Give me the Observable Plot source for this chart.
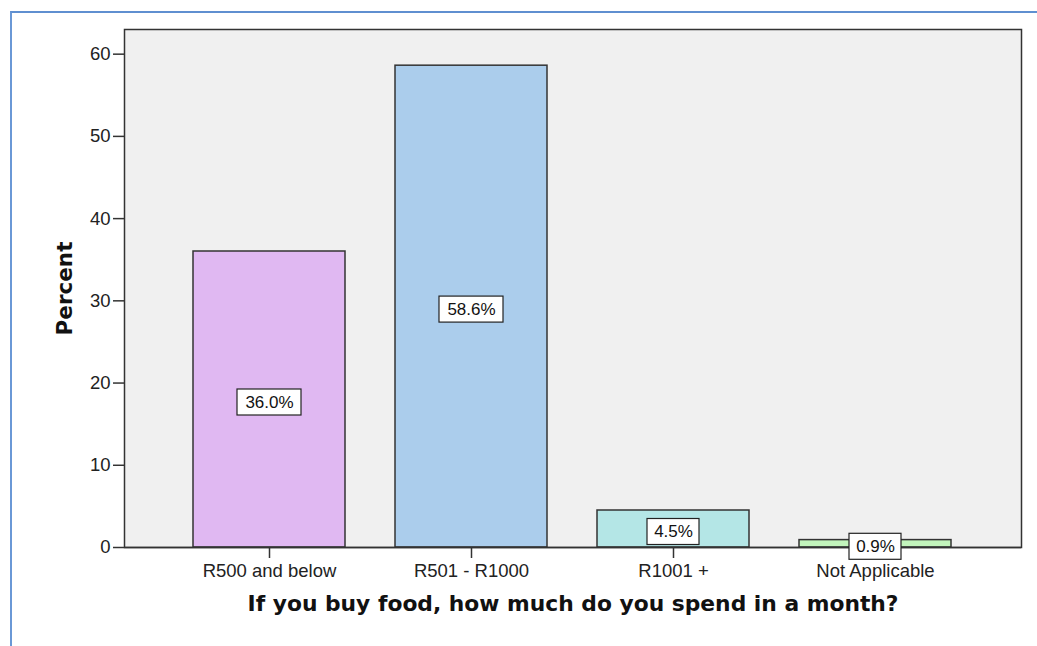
<!DOCTYPE html>
<html>
<head>
<meta charset="utf-8">
<script src="https://cdn.jsdelivr.net/npm/d3@7"></script>
<script src="https://cdn.jsdelivr.net/npm/@observablehq/plot@0.6"></script>
<style>
  html, body { margin: 0; padding: 0; background: #ffffff; }
  #wrap { position: relative; width: 1037px; height: 646px; overflow: hidden; }
  #blueframe { position: absolute; left: 10px; top: 11px; right: -4px; bottom: -4px;
    border-top: 2px solid #5f8fd0; border-left: 2px solid #6a98d6; }
  #chart { position: absolute; left: 0; top: 0; }
</style>
</head>
<body>
<div id="wrap"><div id="blueframe"></div><div id="chart"></div></div>
<script>
// Data
const categories = ["R500 and below", "R501 - R1000", "R1001 +", "Not Applicable"];
const percents = [36.0, 58.6, 4.5, 0.9];
const valueLabels = ["36.0%", "58.6%", "4.5%", "0.9%"];
const yTicks = [0, 10, 20, 30, 40, 50, 60];
const palette = ["#e0b8f2", "#abcdec", "#b4e6e6", "#c2f5bc"];
const xTitle = "If you buy food, how much do you spend in a month?";
const yTitle = "Percent";

const data = categories.map((c, i) => ({category: c, value: percents[i], label: valueLabels[i]}));

const bandwidth = 152;
const labelBoxes = data.map(d => {
  const w = d.label.length * 12 + 4;
  const inset = (bandwidth - w) / 2;
  return Plot.barY([d], {
    x: "category", y1: d => d.value / 2, y2: d => d.value / 2,
    insetLeft: inset, insetRight: inset, insetTop: -10, insetBottom: -16,
    fill: "white", stroke: "#222", strokeWidth: 1.2
  });
});

const chart = Plot.plot({
  width: 1037,
  height: 646,
  marginLeft: 124,
  marginRight: 16,
  marginTop: 29,
  marginBottom: 99,
  style: {fontFamily: "'Liberation Sans', Arial, sans-serif", fontSize: "18.5px", color: "#222", background: "transparent"},
  x: {domain: categories, paddingInner: 0.2475, paddingOuter: 0.344, label: null},
  y: {domain: [0, 63], label: null},
  color: {domain: categories, range: palette},
  marks: [
    Plot.frame({fill: "#f0f0f0"}),
    Plot.barY(data, {x: "category", y: "value", fill: "category", stroke: "#333", strokeWidth: 1.5}),
    Plot.frame({stroke: "#333", strokeWidth: 1.5}),
    Plot.ruleY([0], {stroke: "#333", strokeWidth: 1.5}),
    Plot.axisY({ticks: yTicks, tickSize: 11, tickPadding: 3, tickFormat: d => String(d),
      fontSize: 18.5, stroke: "#333", strokeWidth: 1.5, label: null}),
    Plot.axisX({tickSize: 11, tickPadding: 5, fontSize: 18.5, stroke: "#333", strokeWidth: 1.5, label: null}),
    ...labelBoxes,
    Plot.text(data, {x: "category", y: d => d.value / 2, text: "label", dy: 3,
      fontSize: 17, fill: "#111", fontFamily: "'Liberation Sans', Arial, sans-serif"}),
    Plot.text([xTitle], {frameAnchor: "bottom", dy: 63, fontSize: 21.8, fontWeight: "bold",
      fontFamily: "'DejaVu Sans', Verdana, sans-serif", fill: "#111"}),
    Plot.text([yTitle], {frameAnchor: "left", textAnchor: "middle", dx: -59, dy: 0, rotate: -90,
      fontSize: 21.5, fontWeight: "bold", fontFamily: "'DejaVu Sans', Verdana, sans-serif", fill: "#111"})
  ]
});
document.getElementById("chart").appendChild(chart);
</script>
</body>
</html>
